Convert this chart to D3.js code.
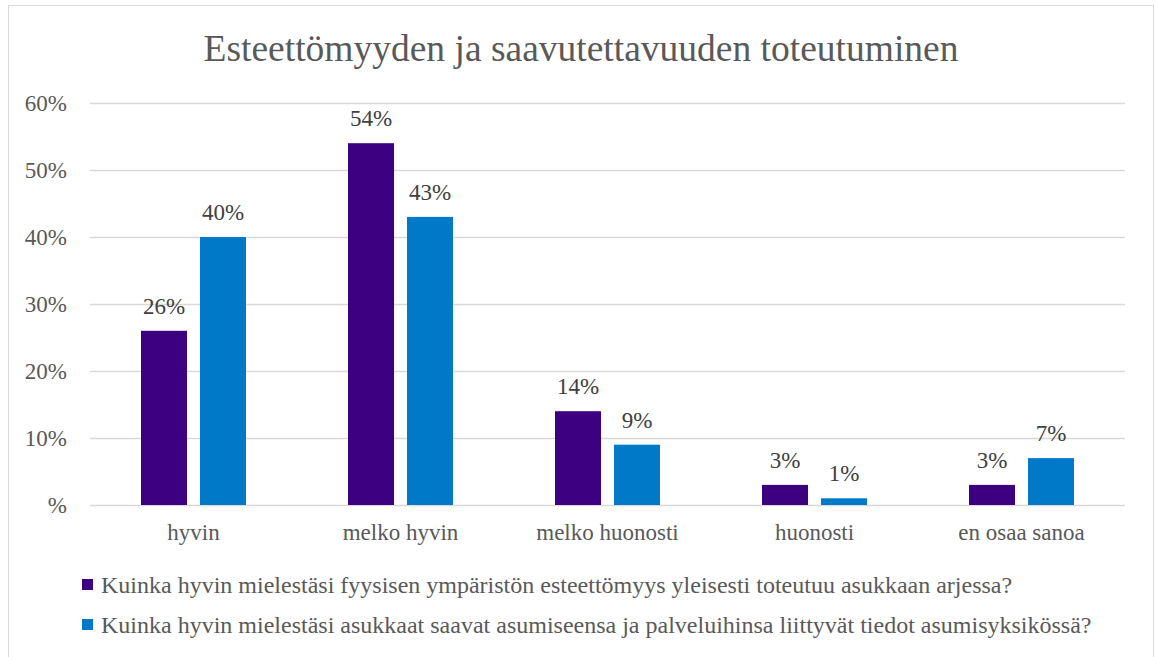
<!DOCTYPE html>
<html><head><meta charset="utf-8">
<script src="https://cdn.jsdelivr.net/npm/d3@7"></script>
<style>html,body{margin:0;padding:0;background:#fff;}svg{display:block;}
svg text{font-family:'Liberation Serif','Times New Roman',serif !important;}</style>
</head><body>
<svg id="c" width="1156" height="657"></svg>
<script>
const categories = ["hyvin", "melko hyvin", "melko huonosti", "huonosti", "en osaa sanoa"];
const seriesNames = [
  "Kuinka hyvin mielestäsi fyysisen ympäristön esteettömyys yleisesti toteutuu asukkaan arjessa?",
  "Kuinka hyvin mielestäsi asukkaat saavat asumiseensa ja palveluihinsa liittyvät tiedot asumisyksikössä?"
];
const series1 = [26, 54, 14, 3, 3];
const series2 = [40, 43, 9, 1, 7];
const yTicks = [0, 10, 20, 30, 40, 50, 60];
const colors = ["#3D0080", "#0079C9"];
const chartTitle = "Esteettömyyden ja saavutettavuuden toteutuminen";

(function () {
const svg = d3.select("#c");
const font = "'Liberation Serif', 'Times New Roman', serif";
const textColor = "#595959";
const fs = 23;

svg.append("rect").attr("x", 8.5).attr("y", 5.5).attr("width", 1145).attr("height", 660)
  .attr("fill", "#fff").attr("stroke", "#d9d9d9").attr("stroke-width", 1);

svg.append("text").attr("x", 581).attr("y", 61).attr("text-anchor", "middle")
  .style("font-family", font).style("font-size", "37.5px").attr("fill", textColor).text(chartTitle);

const pl = 90, pr = 1125, pt = 103, pb = 505;
const x0 = d3.scaleBand().domain(categories).range([pl, pr]).paddingInner(0).paddingOuter(0);
const x1 = d3.scaleBand().domain([0, 1]).range([x0.bandwidth() / 2 - 52.5, x0.bandwidth() / 2 + 52.5]).paddingInner(0.22).paddingOuter(0);
const y = d3.scaleLinear().domain([0, 60]).range([pb, pt]);

const yAxis = d3.axisLeft(y).tickValues(yTicks).tickSize(-(pr - pl))
  .tickFormat(d => d === 0 ? "%" : d + "%").tickPadding(23);
const gy = svg.append("g").attr("transform", `translate(${pl},0)`).call(yAxis);
gy.attr("font-family", null).attr("font-size", null);
gy.select(".domain").remove();
gy.selectAll(".tick line").attr("stroke", "#d9d9d9").attr("stroke-width", 1.3);
gy.selectAll(".tick text").style("font-family", font).style("font-size", fs + "px").attr("fill", textColor);

const xAxis = d3.axisBottom(x0).tickSize(0).tickPadding(19);
const gx = svg.append("g").attr("transform", `translate(0,${pb})`).call(xAxis);
gx.attr("font-family", null).attr("font-size", null);
gx.select(".domain").remove();
gx.selectAll(".tick text").style("font-family", font).style("font-size", fs + "px").attr("fill", textColor);

const data = categories.map((c, i) => ({ c, vals: [series1[i], series2[i]] }));
const groups = svg.append("g").selectAll("g").data(data).join("g")
  .attr("transform", d => `translate(${x0(d.c)},0)`);
groups.selectAll("rect").data(d => d.vals.map((v, k) => ({ v, k }))).join("rect")
  .attr("x", d => x1(d.k)).attr("width", x1.bandwidth())
  .attr("y", d => y(d.v)).attr("height", d => y(0) - y(d.v))
  .attr("fill", d => colors[d.k]);
groups.selectAll("text").data(d => d.vals.map((v, k) => ({ v, k }))).join("text")
  .attr("x", d => x1(d.k) + x1.bandwidth() / 2).attr("y", d => y(d.v) - 17)
  .attr("text-anchor", "middle").style("font-family", font).style("font-size", fs + "px")
  .attr("fill", "#404040").text(d => d.v + "%");

const leg = svg.append("g").selectAll("g").data(seriesNames).join("g")
  .attr("transform", (d, i) => `translate(82,${579 + i * 40})`);
leg.append("rect").attr("x", 0).attr("y", 0).attr("width", 11).attr("height", 11)
  .attr("fill", (d, i) => colors[i]);
leg.append("text").attr("x", 19).attr("y", 14).style("font-family", font).style("font-size", "24px")
  .attr("fill", textColor).text(d => d);
})();
</script>
</body></html>
